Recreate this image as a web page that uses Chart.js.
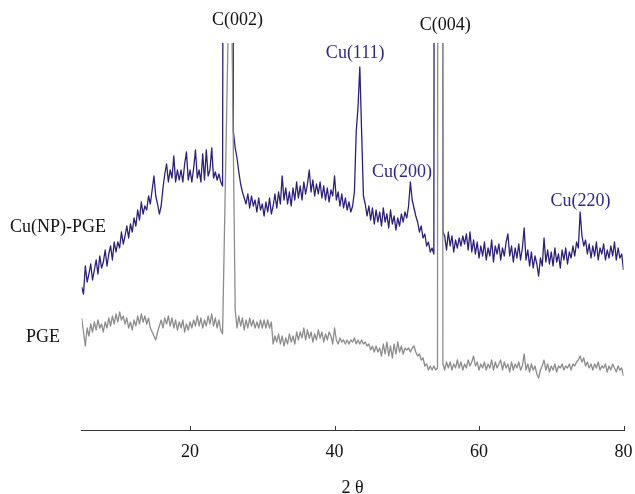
<!DOCTYPE html>
<html>
<head>
<meta charset="utf-8">
<script src="https://cdn.jsdelivr.net/npm/chart.js@4/dist/chart.umd.min.js"></script>
<style>
  html, body { margin: 0; padding: 0; background: #ffffff; overflow: hidden; }
  canvas { display: block; background: #ffffff; }
</style>
</head>
<body>
<canvas id="c" width="635" height="494"></canvas>
<script>
// ---- Data (2θ in degrees, intensity in arbitrary units) ----
const tickValues = [20, 40, 60, 80];

const pgeTheta = [
  5,5.25,5.5,5.75,6,6.25,6.5,6.75,7,7.25,7.5,7.75,8,8.25,8.5,8.75,9,9.25,9.5,9.75,
  10,10.25,10.5,10.75,11,11.25,11.5,11.75,12,12.25,12.5,12.75,13,13.25,13.5,13.75,14,14.25,14.5,14.75,
  15,15.25,15.5,15.75,16,16.25,16.5,16.75,17,17.25,17.5,17.75,18,18.25,18.5,18.75,19,19.25,19.5,19.75,
  20,20.25,20.5,20.75,21,21.25,21.5,21.75,22,22.25,22.5,22.75,23,23.25,23.5,23.75,24,24.25,24.5,
  25.6,
  26.25,26.5,26.75,27,27.25,27.5,27.75,28,28.25,28.5,28.75,29,29.25,29.5,29.75,
  30,30.25,30.5,30.75,31,31.25,31.5,31.75,32,32.25,32.5,32.75,33,33.25,33.5,33.75,34,34.25,34.5,34.75,
  35,35.25,35.5,35.75,36,36.25,36.5,36.75,37,37.25,37.5,37.75,38,38.25,38.5,38.75,39,39.25,39.5,39.75,
  40,40.25,40.5,40.75,41,41.25,41.5,41.75,42,42.25,42.5,42.75,43,43.25,43.5,43.75,44,44.25,44.5,44.75,
  45,45.25,45.5,45.75,46,46.25,46.5,46.75,47,47.25,47.5,47.75,48,48.25,48.5,48.75,49,49.25,49.5,49.75,
  50,50.25,50.5,50.75,51,51.25,51.5,51.75,52,52.25,52.5,52.75,53,53.25,53.5,53.75,54,54.25,
  54.6,
  55,55.25,55.5,55.75,56,56.25,56.5,56.75,57,57.25,57.5,57.75,58,58.25,58.5,58.75,59,59.25,59.5,59.75,
  60,60.25,60.5,60.75,61,61.25,61.5,61.75,62,62.25,62.5,62.75,63,63.25,63.5,63.75,64,64.25,64.5,64.75,
  65,65.25,65.5,65.75,66,66.25,66.5,66.75,67,67.25,67.5,67.75,68,68.25,68.5,68.75,69,69.25,69.5,69.75,
  70,70.25,70.5,70.75,71,71.25,71.5,71.75,72,72.25,72.5,72.75,73,73.25,73.5,73.75,74,74.25,74.5,74.75,
  75,75.25,75.5,75.75,76,76.25,76.5,76.75,77,77.25,77.5,77.75,78,78.25,78.5,78.75,79,79.25,79.5,79.75,80
];
const pgeIntensity = [
  114,100,86,104,96,108,100,110,102,112,104,108,100,110,104,114,106,116,108,118,
  110,120,112,116,108,114,104,110,102,112,106,116,108,118,110,116,108,114,104,100,
  96,92,100,106,112,104,114,108,116,106,114,104,112,102,110,104,112,100,108,102,
  110,104,112,106,116,106,114,104,112,106,116,108,118,106,114,104,112,102,98,
  527,
  122,104,116,106,114,102,112,104,114,106,112,104,110,104,112,
  104,112,104,112,104,110,88,96,90,98,88,96,86,94,88,98,90,96,88,100,
  92,100,94,104,92,102,94,100,90,98,92,102,94,100,90,98,92,100,96,88,
  104,92,88,94,90,92,88,92,88,92,90,94,88,92,88,92,88,90,86,88,
  82,86,80,86,80,84,76,88,78,90,76,86,74,88,78,90,80,86,78,84,
  82,84,80,84,86,80,76,78,72,74,66,68,62,66,62,66,62,64,
  4000,
  68,62,70,64,70,62,68,64,72,64,70,62,68,64,72,66,70,76,66,70,
  62,68,64,70,62,68,64,72,62,70,64,68,72,62,70,64,68,60,70,62,
  68,64,70,62,66,78,62,68,60,68,62,66,58,54,62,66,72,62,68,60,
  66,62,68,60,66,64,68,62,66,64,68,62,68,66,70,72,76,70,74,66,
  70,64,68,62,68,64,70,62,66,64,68,60,66,62,68,64,60,66,62,64,56
];

const cuTheta = [
  5,5.25,5.5,5.75,6,6.25,6.5,6.75,7,7.25,7.5,7.75,8,8.25,8.5,8.75,9,9.25,9.5,9.75,
  10,10.25,10.5,10.75,11,11.25,11.5,11.75,12,12.25,12.5,12.75,13,13.25,13.5,13.75,14,14.25,14.5,14.75,
  15,15.25,15.5,15.75,16,16.25,16.5,16.75,17,17.25,17.5,17.75,18,18.25,18.5,18.75,19,19.25,19.5,19.75,
  20,20.25,20.5,20.75,21,21.25,21.5,21.75,22,22.25,22.5,22.75,23,23.25,23.5,23.75,24,24.25,24.5,
  25.2,
  26,26.25,26.5,26.75,27,27.25,27.5,27.75,28,28.25,28.5,28.75,29,29.25,29.5,29.75,
  30,30.25,30.5,30.75,31,31.25,31.5,31.75,32,32.25,32.5,32.75,33,33.25,33.5,33.75,34,34.25,34.5,34.75,
  35,35.25,35.5,35.75,36,36.25,36.5,36.75,37,37.25,37.5,37.75,38,38.25,38.5,38.75,39,39.25,39.5,39.75,
  40,40.25,40.5,40.75,41,41.25,41.5,41.75,42,42.25,42.5,42.75,43,43.25,43.5,43.75,44,44.25,44.5,44.75,
  45,45.25,45.5,45.75,46,46.25,46.5,46.75,47,47.25,47.5,47.75,48,48.25,48.5,48.75,49,49.25,49.5,49.75,
  50,50.25,50.5,50.75,51,51.25,51.5,51.75,52,52.25,52.5,52.75,53,53.25,53.5,53.75,
  54.3,
  55,55.25,55.5,55.75,56,56.25,56.5,56.75,57,57.25,57.5,57.75,58,58.25,58.5,58.75,59,59.25,59.5,59.75,
  60,60.25,60.5,60.75,61,61.25,61.5,61.75,62,62.25,62.5,62.75,63,63.25,63.5,63.75,64,64.25,64.5,64.75,
  65,65.25,65.5,65.75,66,66.25,66.5,66.75,67,67.25,67.5,67.75,68,68.25,68.5,68.75,69,69.25,69.5,69.75,
  70,70.25,70.5,70.75,71,71.25,71.5,71.75,72,72.25,72.5,72.75,73,73.25,73.5,73.75,74,74.25,74.5,74.75,
  75,75.25,75.5,75.75,76,76.25,76.5,76.75,77,77.25,77.5,77.75,78,78.25,78.5,78.75,79,79.25,79.5,79.75,80
];
const cuIntensity = [
  145,138,166,150,158,168,152,162,172,158,176,164,170,182,166,178,186,172,190,180,
  190,184,200,188,196,206,194,208,200,214,206,222,212,230,218,226,222,236,228,242,
  256,236,228,218,226,244,258,268,250,262,254,276,250,262,252,262,250,268,280,252,
  262,250,264,282,254,262,250,278,252,282,256,262,284,254,260,252,258,250,246,
  3000,
  300,284,274,260,248,240,234,228,238,224,236,226,232,220,234,222,
  228,216,230,220,234,218,226,238,224,240,228,256,232,244,228,240,226,244,232,250,
  234,246,232,250,238,248,262,240,252,236,248,238,250,234,246,232,244,230,242,236,
  256,232,240,226,238,224,234,222,230,220,226,240,300,325,365,300,236,228,216,226,
  212,224,208,222,210,220,206,224,210,218,204,222,208,216,202,214,206,218,210,220,
  214,226,250,232,224,216,210,200,206,194,198,186,190,180,184,178,
  5000,
  200,196,182,200,186,196,180,192,184,194,186,196,188,198,182,200,180,192,178,190,
  174,186,176,190,172,184,176,192,170,186,178,188,172,184,176,190,198,176,186,170,
  184,174,188,172,184,204,172,182,166,180,164,176,168,156,174,166,194,170,182,168,
  180,166,184,170,178,164,182,172,184,168,180,174,186,176,190,184,220,196,186,192,
  178,188,174,186,176,190,172,184,178,188,172,182,174,186,176,190,172,184,174,178,162
];

const seriesNames = ['PGE', 'Cu(NP)-PGE'];
const peakLabels = ['C(002)', 'C(004)', 'Cu(111)', 'Cu(200)', 'Cu(220)'];

// ---- Presentation ----
const FONT = "'Liberation Serif', 'Times New Roman', serif";
const CU_COLOR = '#2e1f7a';
const CU_TEXT = '#2f2886';
const PGE_COLOR = '#8c8c8c';
const INK = '#111111';

// anchor positions of annotations in data space [2θ, intensity]
const peakLabelAnchors = [[26.58, 412], [55.34, 407], [42.86, 379], [49.34, 260], [74.03, 231]];
const peakLabelColors = [INK, INK, CU_TEXT, CU_TEXT, CU_TEXT];
// series labels in canvas pixels (left aligned)
const seriesLabelPos = [[26, 337], [10, 227]];

const toPoints = (xs, ys) => xs.map((x, i) => ({ x: x, y: ys[i] }));

const annotate = {
  id: 'annotate',
  afterDraw(chart) {
    const { ctx, scales: { x, y }, chartArea } = chart;
    ctx.save();
    // upward tick marks on the x axis
    ctx.strokeStyle = '#333333';
    ctx.lineWidth = 1;
    tickValues.forEach(v => {
      const px = Math.round(x.getPixelForValue(v)) + 0.5;
      ctx.beginPath();
      ctx.moveTo(px, chartArea.bottom);
      ctx.lineTo(px, chartArea.bottom - 5);
      ctx.stroke();
    });
    ctx.font = '18px ' + FONT;
    ctx.textBaseline = 'middle';
    ctx.textAlign = 'center';
    peakLabels.forEach((t, i) => {
      const [tx, ty] = peakLabelAnchors[i];
      ctx.fillStyle = peakLabelColors[i];
      ctx.fillText(t, x.getPixelForValue(tx), y.getPixelForValue(ty));
    });
    ctx.textAlign = 'left';
    ctx.fillStyle = INK;
    seriesNames.forEach((t, i) => {
      ctx.fillText(t, seriesLabelPos[i][0], seriesLabelPos[i][1]);
    });
    ctx.restore();
  }
};

new Chart(document.getElementById('c'), {
  type: 'line',
  data: {
    datasets: [
      {
        label: seriesNames[0],
        data: toPoints(pgeTheta, pgeIntensity),
        borderColor: PGE_COLOR,
        borderWidth: 1.3,
        borderJoinStyle: 'round',
        pointRadius: 0,
        tension: 0,
        fill: false
      },
      {
        label: seriesNames[1],
        data: toPoints(cuTheta, cuIntensity),
        borderColor: CU_COLOR,
        borderWidth: 1.3,
        borderJoinStyle: 'round',
        pointRadius: 0,
        tension: 0,
        fill: false
      }
    ]
  },
  options: {
    responsive: false,
    animation: false,
    devicePixelRatio: 1,
    layout: { padding: { top: 43, left: 81.7, right: 11.5, bottom: 0 } },
    plugins: { legend: { display: false }, tooltip: { enabled: false } },
    scales: {
      x: {
        type: 'linear',
        min: 5,
        max: 80,
        afterBuildTicks: s => { s.ticks = tickValues.map(v => ({ value: v })); },
        grid: { display: false, drawTicks: true, tickLength: 10 },
        border: { display: true, color: '#333333', width: 1 },
        ticks: {
          color: INK,
          font: { family: FONT, size: 18 },
          padding: 0,
          maxRotation: 0,
          autoSkip: false
        },
        title: {
          display: true,
          text: '2 θ',
          color: INK,
          font: { family: FONT, size: 18, lineHeight: 0.6667 },
          padding: { top: 19.4, bottom: 0 }
        }
      },
      y: {
        type: 'linear',
        display: false,
        min: 1,
        max: 389
      }
    }
  },
  plugins: [annotate]
});
</script>
</body>
</html>
